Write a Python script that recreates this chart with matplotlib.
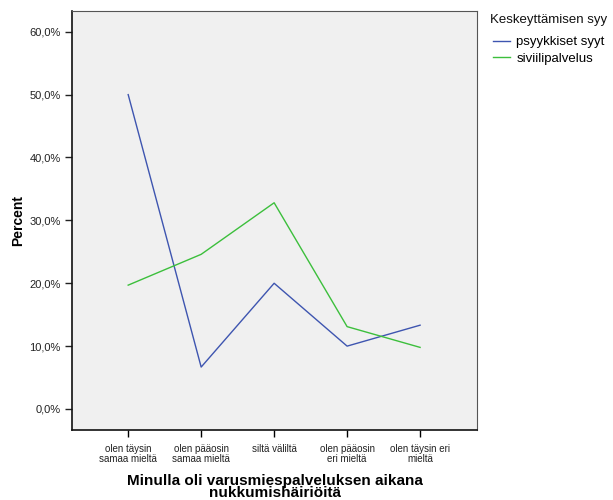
import matplotlib
matplotlib.use("Agg")
import matplotlib.pyplot as plt
from matplotlib.ticker import FuncFormatter

plt.rcParams['font.family'] = ['Liberation Sans', 'DejaVu Sans']

categories = ["olen täysin\nsamaa mieltä", "olen pääosin\nsamaa mieltä", "siltä väliltä",
              "olen pääosin\neri mieltä", "olen täysin eri\nmieltä"]
psyykkiset = [50.0, 6.67, 20.0, 10.0, 13.33]
siviili = [19.7, 24.6, 32.8, 13.1, 9.8]
series_names = ["psyykkiset syyt", "siviilipalvelus"]
legend_title = "Keskeyttämisen syy"

fig = plt.figure(figsize=(6.13, 5.0), dpi=100)
ax = fig.add_axes([72/613, 1-430/500, (477-72)/613, (430-11)/500])
ax.set_facecolor('#F0F0F0')
x = list(range(len(categories)))
l1, = ax.plot(x, psyykkiset, color='#3E55B0', lw=1.0)
l2, = ax.plot(x, siviili, color='#3CBF3C', lw=1.0)
ax.set_xlim(-0.77, 4.78)
ax.set_ylim(-3.34, 63.3)
ax.set_yticks([0, 10, 20, 30, 40, 50, 60])
ax.yaxis.set_major_formatter(FuncFormatter(lambda v, p: f"{v:.1f}%".replace('.', ',')))
ax.set_xticks(x)
ax.set_xticklabels(categories, fontsize=7, color='#222222', linespacing=1.0)
ax.tick_params(axis='y', labelsize=8, colors='#222222', length=5, width=1, direction='out', pad=3)
ax.tick_params(axis='x', length=5, width=1, direction='out', pad=5)
for s in ['left', 'bottom']:
    ax.spines[s].set_linewidth(1.2)
    ax.spines[s].set_color('#111111')
for s in ['top', 'right']:
    ax.spines[s].set_linewidth(0.8)
    ax.spines[s].set_color('#555555')
ax.set_ylabel("Percent", fontsize=10, fontweight='bold', labelpad=3)
ax.set_xlabel("Minulla oli varusmiespalveluksen aikana\nnukkumishäiriöitä", fontsize=11,
              fontweight='bold', linespacing=0.85, labelpad=7)
fig.text(490/613, 1-20/500, legend_title, fontsize=9.5, va='center', ha='left', color='#111111')
fig.legend([l1, l2], series_names, loc='upper left', bbox_to_anchor=(484/613, 1-27/500),
           frameon=False, fontsize=9.5, handlelength=1.3, handletextpad=0.45,
           labelspacing=0.3, borderpad=0.2)
fig.savefig("out.png", dpi=100)
